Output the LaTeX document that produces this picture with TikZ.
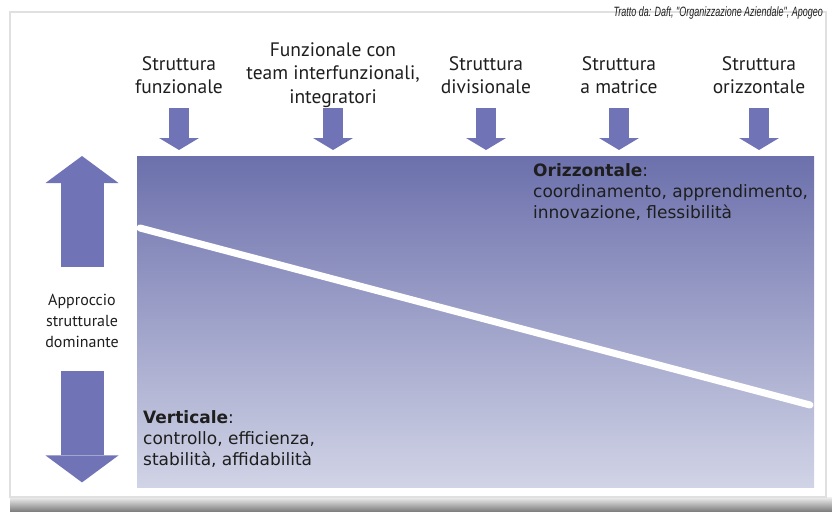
\documentclass[tikz,border=0pt]{standalone}
\usepackage{fontspec}
\setmainfont{PT Sans}
\newfontfamily\keyfont{DejaVu Sans}
\newfontfamily\notefont{Liberation Sans}
\usepackage{tikz}
\usetikzlibrary{arrows.meta, positioning, calc}
\definecolor{structblue}{HTML}{7074B6}
\definecolor{paneltop}{HTML}{6C70AC}
\definecolor{panelbottom}{HTML}{D1D4E6}
\definecolor{structdark}{HTML}{1E1E1E}
\tikzset{
  framebox/.style={draw=black!12, line width=1.5pt},
  panel/.style={draw=none, top color=paneltop, bottom color=panelbottom, inner sep=0pt},
  toplbl/.style={align=center, inner sep=0pt, text=structdark,
                 font=\fontsize{19.5}{23.5}\selectfont},
  sidelbl/.style={align=center, inner sep=0pt, text=structdark,
                  font=\fontsize{16}{21}\selectfont},
  keytxt/.style={align=left, inner sep=0pt, text=structdark,
                 font=\keyfont\fontsize{17}{21}\selectfont},
  notelbl/.style={inner sep=0pt, text=structdark, font=\notefont\itshape\fontsize{13.5}{15}\selectfont},
  topflow/.style={draw=structblue, line width=20pt,
                  -{Triangle[width=40pt, length=12pt, line width=0pt]}, shorten >=6pt},
  sideflow/.style={draw=structblue, line width=43pt,
                   -{Triangle[width=73pt, length=27pt, line width=0pt]}},
  divider/.style={draw=white, line width=7pt, line cap=round},
}
\begin{document}
\begin{tikzpicture}[x=1pt, y=-1pt]
  \useasboundingbox (0,0) rectangle (832,511);
  % page frame with its shadow
  \shade[top color=black!6, bottom color=black!50] (10,497) rectangle (832,511);
  \draw[framebox] (10,12) rectangle (826,497);
  \node[panel, anchor=north west, minimum width=677pt, minimum height=331pt] (panel) at (137,156) {};

  \node[notelbl, anchor=north east] (src) at (823,7)
    {\scalebox{0.665}[1]{Tratto da: Daft, "Organizzazione Aziendale", Apogeo}};

  % structures, from vertical to horizontal
  \node[toplbl] (funz) at (179,75) {Struttura\\funzionale};
  \node[toplbl] (team) at (333,75) {Funzionale con\\team interfunzionali,\\integratori};
  \node[toplbl] (divi) at (486,75) {Struttura\\divisionale};
  \node[toplbl] (matr) at (619,75) {Struttura\\a matrice};
  \node[toplbl] (oriz) at (759,75) {Struttura\\orizzontale};

  \coordinate (arrtop) at (0,108);
  \foreach \n in {funz,team,divi,matr,oriz}
    \draw[topflow] (\n |- arrtop) -- (\n |- panel.north);

  % dominant approach
  \node[sidelbl] (appr) at (82,321) {Approccio\\strutturale\\dominante};
  \draw[sideflow, shorten <=27pt] (appr.north) -- (appr.north |- panel.north);
  \draw[sideflow, shorten <=23pt, shorten >=5pt] (appr.south) -- (appr.south |- panel.south);

  \coordinate (lineL) at (140,228);
  \coordinate (lineR) at (810,405);
  \draw[divider] (lineL) -- (lineR);

  \node[keytxt, anchor=north west] (orizt) at (533,163)
    {\textbf{Orizzontale}:\\coordinamento, apprendimento,\\innovazione, flessibilità};
  \node[keytxt, anchor=north west] (vert) at (143,410)
    {\textbf{Verticale}:\\controllo, efficienza,\\stabilità, affidabilità};
\end{tikzpicture}
\end{document}
